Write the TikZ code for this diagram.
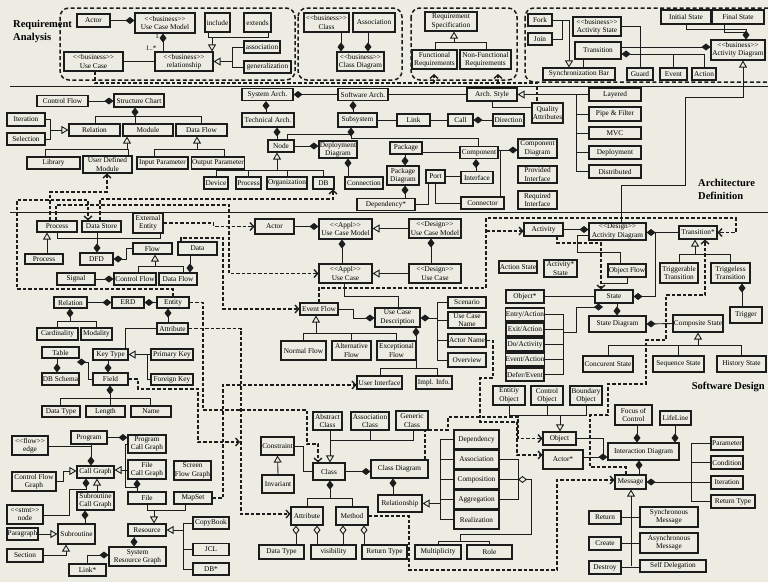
\documentclass[tikz,border=0pt]{standalone}
\usepackage{fontspec}
\setmainfont{Liberation Serif}
\usetikzlibrary{arrows.meta}
\definecolor{paper}{RGB}{236,236,226}
\definecolor{ink}{RGB}{28,28,28}
\newcommand{\stereo}[1]{{<}{<}#1{>}{>}}
\newcommand{\mkbox}[6]{\node[bx, minimum width=#4pt, minimum height=#5pt] (#1) at (#2,#3) {#6};}
\begin{document}
\begin{tikzpicture}[x=1pt, y=-1pt,
  bx/.style={draw=ink, line width=1.1pt, fill=paper, inner sep=0.3pt, align=center, font=\fontsize{7.3}{8.3}\selectfont},
  ln/.style={draw=ink, line width=0.9pt},
  comp/.style={ln, -{Diamond[length=9pt,width=7pt]}},
  agg/.style={ln, -{Diamond[length=9pt,width=7pt,fill=paper]}},
  gen/.style={ln, -{Triangle[length=7pt,width=8pt,fill=paper]}},
  dl/.style={draw=ink, line width=1.4pt, dash pattern=on 3.5pt off 2pt},
  dep/.style={dl, -{Straight Barb[length=3.5pt,width=8pt]}},
  region/.style={draw=ink, line width=1.5pt, dash pattern=on 4pt off 2.5pt, rounded corners=9pt},
  sep/.style={draw=ink, line width=0.9pt},
  ttl/.style={font=\bfseries\fontsize{10.5}{13}\selectfont, align=left, inner sep=0},
  lbl/.style={font=\fontsize{7}{8}\selectfont, inner sep=0}]

\useasboundingbox (0,0) rectangle (768,582);
\fill[paper] (0,0) rectangle (768,582);

% package frames of the requirement layer
\draw[region] (60,8) rectangle (295,80);
\draw[region] (298,8) rectangle (402,80);
\draw[region] (411,8) rectangle (517,80);
\begin{scope}
  \clip (0,0) rectangle (768,582);
  \draw[region] (525,8) rectangle (778,82);
\end{scope}

% layer separators
\draw[sep] (10,86) -- (768,86);
\draw[sep] (10,212) -- (768,212);

% layer titles
\node[ttl, anchor=north west] (tReq) at (13,20) {Requirement\\Analysis};
\node[ttl, anchor=north west] (tArch) at (698,179) {Architecture\\Definition};
\node[ttl, anchor=north east] (tDes) at (765,382) {Software Design};

% ---------- requirement analysis ----------
\mkbox{actor}{93.5}{20.5}{33}{13}{Actor}
\mkbox{bucm}{165}{23}{60}{20}{\stereo{business}\\Use Case Model}
\mkbox{bucase}{93.5}{61.5}{59}{19}{\stereo{business}\\Use Case}
\mkbox{brel}{184}{61.5}{58}{19}{\stereo{business}\\relationship}
\mkbox{include}{217.5}{22.5}{25}{19}{include}
\mkbox{extends}{257.5}{22.5}{27}{19}{extends}
\mkbox{assocA}{262}{47}{36}{12}{association}
\mkbox{gener}{267.5}{67}{47}{12}{generalization}
\mkbox{bclass}{326.5}{22.5}{45}{19}{\stereo{business}\\Class}
\mkbox{bassoc}{374}{22.5}{42}{19}{Association}
\mkbox{bcd}{360.5}{61.5}{47}{19}{\stereo{business}\\Class Diagram}
\mkbox{reqspec}{451}{21.5}{52}{19}{Requirement\\Specification}
\mkbox{funreq}{434.5}{59.5}{45}{19}{Functional\\Requirements}
\mkbox{nfreq}{485.5}{59.5}{51}{19}{Non-Functional\\Requirements}
\mkbox{fork}{540}{20}{24}{12}{Fork}
\mkbox{join}{540}{39}{24}{12}{Join}
\mkbox{syncbar}{579}{74}{72}{12}{Synchronization Bar}
\mkbox{bactst}{597}{26.5}{48}{19}{\stereo{business}\\Activity State}
\mkbox{trans}{598}{50.5}{46}{17}{Transition}
\mkbox{guard}{640}{74}{26}{12}{Guard}
\mkbox{event}{673.5}{74}{27}{12}{Event}
\mkbox{action}{704}{74}{24}{12}{Action}
\mkbox{init}{686}{17}{50}{14}{Initial State}
\mkbox{final}{738}{17}{52}{14}{Final State}
\mkbox{bad}{738}{50}{54}{20}{\stereo{business}\\Activity Diagram}

% ---------- architecture definition ----------
\mkbox{ctrlflow}{62.5}{101}{51}{11}{Control Flow}
\mkbox{stchart}{139}{100.5}{50}{13}{Structure Chart}
\mkbox{iter}{26}{119.5}{38}{13}{Iteration}
\mkbox{sel}{26}{139}{38}{12}{Selection}
\mkbox{relation}{94.5}{130}{51}{12}{Relation}
\mkbox{module}{148}{130}{50}{12}{Module}
\mkbox{dflowA}{201.5}{130}{51}{12}{Data Flow}
\mkbox{library}{53.5}{163}{53}{12}{Library}
\mkbox{udm}{107.5}{164.5}{49}{17}{User Defined\\Module}
\mkbox{inparam}{162.5}{163}{51}{12}{Input Parameter}
\mkbox{outparam}{218}{163}{52}{12}{Output Parameter}
\mkbox{sysarch}{267.5}{94.5}{51}{12}{System Arch.}
\mkbox{swarch}{363}{94.5}{50}{12}{Software Arch.}
\mkbox{techarch}{268}{120}{52}{14}{Technical Arch.}
\mkbox{subsys}{357.5}{120}{39}{14}{Subsystem}
\mkbox{node}{281}{146}{26}{12}{Node}
\mkbox{depdiag}{338}{149.5}{38}{17}{Deployment\\Diagram}
\mkbox{device}{216}{183}{24}{12}{Device}
\mkbox{processA}{248.5}{183}{25}{12}{Process}
\mkbox{org}{287}{183}{40}{12}{Organization}
\mkbox{db}{323.5}{183}{21}{12}{DB}
\mkbox{connection}{364}{183}{38}{12}{Connection}
\mkbox{archstyle}{492}{94.5}{50}{13}{Arch. Style}
\mkbox{quality}{547.5}{113}{31}{20}{Quality\\Attributes}
\mkbox{link}{413.5}{120}{33}{12}{Link}
\mkbox{call}{460.5}{120}{25}{12}{Call}
\mkbox{direction}{508.5}{120}{31}{12}{Direction}
\mkbox{package}{406}{148}{32}{12}{Package}
\mkbox{component}{479}{152.5}{38}{12}{Component}
\mkbox{pkgdiag}{403}{175.5}{32}{19}{Package\\Diagram}
\mkbox{port}{435.5}{176.5}{19}{13}{Port}
\mkbox{interface}{477}{177.5}{32}{12}{Interface}
\mkbox{compdiag}{537.5}{148.5}{39}{19}{Component\\Diagram}
\mkbox{provif}{537.5}{174.5}{39}{17}{Provided\\Interface}
\mkbox{reqif}{537.5}{200}{39}{18}{Required\\Interface}
\mkbox{connector}{482.5}{203}{43}{12}{Connector}
\mkbox{dependency}{386}{204.5}{58}{12}{Dependency*}
\mkbox{layered}{615}{94.5}{52}{13}{Layered}
\mkbox{pipe}{615}{114}{52}{14}{Pipe \& Filter}
\mkbox{mvc}{615}{133}{52}{12}{MVC}
\mkbox{deploy}{615}{152.5}{52}{13}{Deployment}
\mkbox{distrib}{615}{171.5}{52}{13}{Distributed}

% ---------- software design ----------
\mkbox{proc}{57}{226.5}{40}{11}{Process}
\mkbox{dstore}{101.5}{226.5}{39}{11}{Data Store}
\mkbox{extent}{148}{223}{30}{20}{External\\Entity}
\mkbox{proc2}{44}{259}{38}{10}{Process}
\mkbox{dfd}{96.5}{259}{33}{12}{DFD}
\mkbox{flow}{152.5}{248.5}{39}{11}{Flow}
\mkbox{data}{197.5}{248.5}{39}{13}{Data}
\mkbox{signal}{76}{279}{38}{12}{Signal}
\mkbox{cflow}{135}{279}{42}{12}{Control Flow}
\mkbox{dflowB}{178}{279}{38}{12}{Data Flow}
\mkbox{erelation}{70.5}{302.5}{33}{11}{Relation}
\mkbox{erd}{128}{302.5}{32}{11}{ERD}
\mkbox{entity}{173}{302.5}{32}{11}{Entity}
\mkbox{card}{57.5}{334}{41}{12}{Cardinality}
\mkbox{modal}{96.5}{334}{31}{12}{Modality}
\mkbox{eattr}{172.5}{328.5}{31}{11}{Attribute}
\mkbox{keytype}{110.5}{354.5}{35}{11}{Key Type}
\mkbox{pkey}{172}{354.5}{42}{11}{Primary Key}
\mkbox{fkey}{172}{379.5}{42}{11}{Foreign Key}
\mkbox{table}{60.5}{352.5}{37}{11}{Table}
\mkbox{dbschema}{60.5}{379}{37}{12}{DB Schema}
\mkbox{field}{110.5}{379}{35}{12}{Field}
\mkbox{fdtype}{61}{411.5}{38}{11}{Data Type}
\mkbox{length}{105.5}{411.5}{39}{11}{Length}
\mkbox{name}{151}{411.5}{40}{11}{Name}
\mkbox{program}{89}{437.5}{36}{13}{Program}
\mkbox{pcg}{147}{444}{38}{18}{Program\\Call Graph}
\mkbox{edge}{30}{445.5}{36}{19}{\stereo{flow}\\edge}
\mkbox{callgraph}{95.5}{472}{37}{12}{Call Graph}
\mkbox{cfg}{34}{481.5}{44}{19}{Control Flow\\Graph}
\mkbox{fcg}{147}{469.5}{38}{19}{File\\Call Graph}
\mkbox{file}{147}{498}{38}{12}{File}
\mkbox{sfg}{192.5}{470.5}{37}{19}{Screen\\Flow Graph}
\mkbox{mapset}{193}{498}{38}{12}{MapSet}
\mkbox{scg}{95.5}{501}{37}{18}{Subroutine\\Call Graph}
\mkbox{stmt}{25}{514.5}{36}{19}{\stereo{stmt}\\node}
\mkbox{subr}{76.5}{534}{37}{20}{Subroutine}
\mkbox{para}{22.5}{534}{31}{12}{Paragraph}
\mkbox{section}{25}{555.5}{36}{13}{Section}
\mkbox{resource}{147}{530}{38}{12}{Resource}
\mkbox{srg}{137.5}{556.5}{57}{19}{System\\Resource Graph}
\mkbox{linkB}{87.5}{570}{37}{12}{Link*}
\mkbox{copybook}{211}{523}{36}{12}{CopyBook}
\mkbox{jcl}{211}{549.5}{36}{12}{JCL}
\mkbox{dbstar}{211}{569}{36}{12}{DB*}

\mkbox{sactor}{274.5}{226.5}{39}{15}{Actor}
\mkbox{aucm}{345.5}{229}{53}{20}{\stereo{Appl}\\Use Case Model}
\mkbox{auc}{345.5}{273.5}{53}{19}{\stereo{Appl}\\Use Case}
\mkbox{ducm}{435}{228.5}{52}{19}{\stereo{Design}\\Use Case Model}
\mkbox{duc}{435}{273.5}{52}{19}{\stereo{Design}\\Use Case}
\mkbox{evflow}{319}{309}{38}{12}{Event Flow}
\mkbox{ucd}{397.5}{317.5}{45}{19}{Use Case\\Description}
\mkbox{normal}{303.5}{350.5}{45}{19}{Normal Flow}
\mkbox{altflow}{351.5}{350.5}{39}{19}{Alternative\\Flow}
\mkbox{excflow}{396.5}{350.5}{39}{19}{Exceptional\\Flow}
\mkbox{scenario}{467}{302.5}{38}{11}{Scenario}
\mkbox{ucname}{467}{320}{38}{16}{Use Case\\Name}
\mkbox{actname}{467}{340.5}{38}{13}{Actor Name}
\mkbox{overview}{467}{360}{38}{14}{Overview}
\mkbox{ui}{379.5}{382.5}{45}{13}{User Interface}
\mkbox{impl}{434}{382.5}{36}{13}{Impl. Info.}

\mkbox{activity}{543.5}{229.5}{39}{13}{Activity}
\mkbox{dad}{617.5}{231.5}{57}{17}{\stereo{Design}\\Activity Diagram}
\mkbox{transstar}{698}{232.5}{38}{13}{Transition*}
\mkbox{actionstate}{518}{267}{38}{12}{Action State}
\mkbox{actstatestar}{560.5}{268.5}{33}{17}{Activity*\\State}
\mkbox{objflow}{627}{270.5}{38}{13}{Object Flow}
\mkbox{trigable}{679}{273}{38}{20}{Triggerable\\Transition}
\mkbox{trigless}{730.5}{273}{39}{20}{Triggeless\\Transition}
\mkbox{objstar}{525}{296.5}{38}{13}{Object*}
\mkbox{state}{614}{296.5}{38}{13}{State}
\mkbox{trigger}{746}{315}{32}{16}{Trigger}
\mkbox{entry}{525}{314.5}{38}{13}{Entry/Action}
\mkbox{exit}{525}{329.5}{38}{13}{Exit/Action}
\mkbox{doact}{525}{344.5}{38}{13}{Do/Activity}
\mkbox{evact}{525}{359.5}{38}{13}{Event/Action}
\mkbox{defer}{525}{374.5}{38}{13}{Defer/Event}
\mkbox{statediag}{617.5}{324}{57}{16}{State Diagram}
\mkbox{compstate}{698}{323.5}{50}{17}{Composite State}
\mkbox{concur}{608}{364}{50}{16}{Concurent State}
\mkbox{sequence}{678.5}{364}{51}{16}{Sequence State}
\mkbox{history}{741.5}{364}{49}{16}{History State}

\mkbox{eobj}{509}{395.5}{32}{19}{Entitiy\\Object}
\mkbox{cobj}{547}{395.5}{32}{19}{Control\\Object}
\mkbox{bobj}{586}{395.5}{32}{19}{Boundary\\Object}
\mkbox{object}{559.5}{438.5}{33}{13}{Object}
\mkbox{actorstar}{563}{459.5}{40}{19}{Actor*}
\mkbox{foc}{633.5}{415}{37}{20}{Focus of\\Control}
\mkbox{lifeline}{675.5}{418}{31}{14}{LifeLine}
\mkbox{intdiag}{643.5}{451.5}{71}{17}{Interaction Diagram}
\mkbox{message}{630.5}{482}{31}{14}{Message}
\mkbox{param}{727}{443.5}{32}{13}{Parameter}
\mkbox{cond}{727}{462.5}{32}{13}{Condition}
\mkbox{miter}{727}{482.5}{32}{13}{Iteration}
\mkbox{mrettype}{733}{501.5}{44}{13}{Return Type}
\mkbox{ret}{605}{517.5}{32}{13}{Return}
\mkbox{syncmsg}{669}{517}{58}{20}{Synchronous\\Message}
\mkbox{create}{605}{543.5}{32}{13}{Create}
\mkbox{asyncmsg}{669}{543}{58}{20}{Asynchronous\\Message}
\mkbox{destroy}{605}{567.5}{32}{13}{Destroy}
\mkbox{selfdel}{673}{566}{66}{12}{Self Delegation}

\mkbox{absclass}{327.5}{421}{29}{18}{Abstract\\Class}
\mkbox{assocclass}{370}{421}{38}{18}{Association\\Class}
\mkbox{genclass}{412}{420.5}{32}{19}{Generic\\Class}
\mkbox{constraint}{277.5}{446}{33}{18}{Constraint}
\mkbox{invariant}{278}{484}{32}{18}{Invariant}
\mkbox{class}{329}{471.5}{32}{17}{Class}
\mkbox{classdiag}{399.5}{469}{57}{18}{Class Diagram}
\mkbox{cattr}{307}{516}{32}{18}{Attribute}
\mkbox{method}{352}{516}{32}{18}{Method}
\mkbox{cdtype}{281.5}{552}{45}{14}{Data Type}
\mkbox{visib}{333.5}{552}{45}{14}{visibility}
\mkbox{crettype}{384.5}{552}{45}{14}{Return Type}
\mkbox{relship}{400}{503.5}{44}{17}{Relationship}
\mkbox{depend}{476.5}{439.5}{45}{19}{Dependency}
\mkbox{assocB}{476.5}{459.5}{45}{19}{Association}
\mkbox{compos}{476.5}{479.5}{45}{19}{Composition}
\mkbox{aggreg}{476.5}{499.5}{45}{19}{Aggregation}
\mkbox{realiz}{476.5}{519.5}{45}{19}{Realization}
\mkbox{mult}{438}{552}{46}{14}{Multiplicity}
\mkbox{role}{489.5}{552}{45}{14}{Role}

% junction points
\coordinate (incJ) at (212,37);
\coordinate (asJ) at (232,61.5);
\coordinate (rsJ) at (454,43);
\coordinate (fjJ) at (562,20);
\coordinate (frBase) at (434,83);
\coordinate (frTip) at (434,74);
\coordinate (nfBase) at (498,83);
\coordinate (nfTip) at (498,74);
\coordinate (isJ) at (50,130);
\coordinate (lmJ) at (127,150);
\coordinate (ioJ) at (197,150);
\coordinate (ndJ) at (277,171);
\coordinate (ssR) at (351,138);
\coordinate (cpJ) at (500,150);
\coordinate (dfdJ) at (97,238);
\coordinate (flJ) at (155,267);
\coordinate (rcJ) at (70,322);
\coordinate (kJ) at (147,354.5);
\coordinate (tfD) at (77,362);
\coordinate (fdJ) at (110,399);
\coordinate (fieldTip) at (240,442);
\coordinate (evJ) at (486,231);
\coordinate (efJ) at (316,334);
\coordinate (ucdR) at (437,318);
\coordinate (ucdB) at (416,368);
\coordinate (ofJ) at (601,283);
\coordinate (eaJ) at (563,332);
\coordinate (stD) at (603,307);
\coordinate (csJ) at (698,346);
\coordinate (ttJ) at (695,255);
\coordinate (obJ) at (560,415);
\coordinate (idJ) at (603,457);
\coordinate (msJ) at (691,482);
\coordinate (mgJ) at (631,566);
\coordinate (clJ) at (330,440);
\coordinate (caJ) at (330,499);
\coordinate (rsJ2) at (440,503.5);
\coordinate (acJ) at (518,479.5);
\coordinate (mrJ) at (460,541);
\coordinate (frJ) at (154,510);
\coordinate (rcJ2) at (183,530);

% ---------- requirement analysis links ----------
\draw[comp] (actor.east) -- (actor.east -| bucm.west);
\draw[comp] (brel.north -| 163,0) -- (bucm.south -| 163,0);
\node[lbl] (mOne) at (157,36) {1};
\node[lbl] (mMany) at (151,48) {1..*};
\draw[ln] (bucase.east) -- (bucase.east -| brel.west);
\draw[ln] (include.south -| 208,0) -- ++(0,5) -| (extends.south -| 268,0);
\draw[gen] (incJ) -- (brel.north -| incJ);
\draw[ln] (assocA.west) -| (232,67) -- (gener.west);
\draw[gen] (asJ) -- (brel.east);
\draw[comp] (bclass.south -| 341,0) -- (bcd.north -| 341,0);
\draw[comp] (bassoc.south -| 368,0) -- (bcd.north -| 368,0);
\draw[ln] (funreq.north -| 435,0) -- ++(0,-7) -| (nfreq.north -| 486,0);
\draw[gen] (rsJ) -- (reqspec.south -| rsJ);
\draw[ln] (fork.east) -| (562,39) -- (join.east);
\draw[gen] (fjJ) -| (syncbar.north -| 569,0);
\draw[ln] (trans.south -| 583,0) -- (syncbar.north -| 583,0);
\draw[comp] (action.north) |- (trans.east |- 0,54);
\draw[ln] (guard.north) -- (guard.north |- 0,54);
\draw[ln] (event.north) -- (event.north |- 0,54);
\draw[ln] (bactst.east) -| (guard.north);
\draw[comp] (trans.east |- 0,47) -- (bad.west |- 0,47);
\draw[comp] (init.south) |- (746,29) -- (bad.north -| 746,0);
\draw[ln] (final.south -| 724,0) |- (746,32);
\draw[gen] (dad.north -| 621,0) |- (685,185) |- (743,97) -- (bad.south -| 743,0);
\draw[dl] (bucase.south -| 95,0) |- (537,83) -- (quality.north -| 537,0);
\draw[dep] (frBase) -- (frTip);
\draw[dep] (nfBase) -- (nfTip);

% ---------- architecture links ----------
\draw[comp] (ctrlflow.east) -- (ctrlflow.east -| stchart.west);
\draw[comp] (module.north -| 135,0) -- (stchart.south -| 135,0);
\draw[ln] (relation.north -| 95,0) -- ++(0,-7) -| (dflowA.north -| 201,0);
\draw[ln] (iter.east) -| (50,139) -- (sel.east);
\draw[gen] (isJ) -- (relation.west);
\draw[ln] (library.north -| 45,0) -- ++(0,-7) -| (udm.north -| 128,0);
\draw[gen] (lmJ) -- (module.south -| lmJ);
\draw[ln] (inparam.north -| 154,0) -- ++(0,-7) -| (outparam.north -| 224,0);
\draw[gen] (ioJ) -- (dflowA.south -| ioJ);
\draw[comp] (swarch.west) -- (sysarch.east);
\draw[comp] (techarch.north -| 266,0) -- (sysarch.south -| 266,0);
\draw[comp] (subsys.north -| 353,0) -- (swarch.south -| 353,0);
\draw[comp] (node.north -| 277,0) -- (techarch.south -| 277,0);
\draw[comp] (node.east) -- (node.east -| depdiag.west);
\draw[ln] (device.north) -- ++(0,-6) -| (db.north);
\draw[ln] (processA.north) -- ++(0,-6);
\draw[ln] (org.north) -- ++(0,-6);
\draw[gen] (ndJ) -- (node.south -| ndJ);
\draw[comp] (connection.north -| 348,0) -- (depdiag.south -| 348,0);
\draw[comp] (ssR) -- (subsys.south -| ssR);
\draw[ln] (node.north -| 287,0) |- (351,134);
\draw[ln] (ssR) -| (component.north -| 478,0);
\draw[ln] (subsys.east) -- (link.west);
\draw[ln] (link.east) -- (call.west);
\draw[comp] (direction.west) -- (call.east);
\draw[ln] (swarch.east) -- (archstyle.west);
\draw[ln] (archstyle.south) |- (quality.west |- 0,107);
\draw[gen] (layered.west) -- (archstyle.east);
\draw[ln] (layered.west -| 576,0) |- (distrib.west);
\draw[ln] (pipe.west -| 576,0) -- (pipe.west);
\draw[ln] (mvc.west -| 576,0) -- (mvc.west);
\draw[ln] (deploy.west -| 576,0) -- (deploy.west);
\draw[comp] (package.south -| 405,0) -- (pkgdiag.north -| 405,0);
\draw[ln] (package.east |- 0,152) -- (component.west |- 0,152);
\draw[comp] (interface.north -| 476,0) -- (component.south -| 476,0);
\draw[ln] (port.east) -- (port.east -| interface.west);
\draw[comp] (component.east |- 0,150) -- (compdiag.west |- 0,150);
\draw[ln] (cpJ) -- (connector.north -| cpJ);
\draw[comp] (dependency.north -| 405,0) -- (pkgdiag.south -| 405,0);
\draw[ln] (port.south) |- (connector.west);
\draw[ln] (dependency.east) -| (port.south -| 428,0);

% ---------- cross-layer mappings ----------
\draw[dep] (dstore.north -| 100,0) |- (333,199) -- (db.south -| 333,0);
\draw[dep] (proc.north -| 50,0) |- (107,192) -- (udm.south -| 107,0);
\draw[dep] (entity.north) |- (17,289) |- (88,200) -- (dstore.north -| 88,0);
\draw[dep] (proc.north -| 56,0) |- (229,205) |- (auc.west);
\draw[dep] (extent.east) -- ++(50,0) |- (sactor.west);
\draw[dep] (data.north -| 181,0) |- (223,238) |- (evflow.west);
\draw[dep] (field.east) -| (138,389) -| (198,442) -- (fieldTip);
\draw[dep] (entity.east) -| (203,410) -| (307,444) -| (class.north -| 318,0);
\draw[dep] (eattr.east) -| (241,514) -- (cattr.west |- 0,514);
\draw[dep] (mapset.east) -| (223,385) -- (ui.west |- 0,385);
\draw[dep] (actname.east) -| (493,378) -| (480,422) -| (517,455) -- (actorstar.west |- 0,455);
\draw[dep] (classdiag.north -| 425,0) |- (448,430) |- (518,417) |- (object.west);
\draw[dep] (method.east) -| (409,570) -| (557,480) -- (message.west |- 0,480);
\draw[dep] (activity.south -| 557,0) |- (601,243) -- (state.north -| 601,0);
\draw[dep] (evflow.north) |- (486,288) |- (736,218) |- (transstar.east);
\draw[dep] (evJ) -- (activity.west |- evJ);
\draw[dep] (message.north -| 626,0) |- (590,467) |- (608,415) |- (646,384) |- (666,340) |- (705,295) -- (transstar.south -| 705,0);

% ---------- software design links ----------
\draw[comp] (dfdJ) -- (dfd.north -| dfdJ);
\draw[ln] (proc.south) |- (160,238) -- (extent.south -| 160,0);
\draw[ln] (dstore.south -| 97,0) -- (dfdJ);
\draw[gen] (proc2.north -| 47,0) -- (proc.south -| 47,0);
\draw[comp] (flow.west) -| (126,259) -- (dfd.east);
\draw[ln] (cflow.north -| 138,0) -- ++(0,-6) -| (dflowB.north -| 183,0);
\draw[gen] (flJ) -- (flow.south -| flJ);
\draw[comp] (signal.east) -- (cflow.west);
\draw[comp] (data.south -| 190,0) -- (dflowB.north -| 190,0);
\draw[comp] (erelation.east) -- (erd.west);
\draw[comp] (entity.west) -- (erd.east);
\draw[comp] (rcJ) -- (erelation.south -| rcJ);
\draw[ln] (card.north) -- ++(0,-6) -| (modal.north);
\draw[comp] (eattr.north -| 168,0) -- (entity.south -| 168,0);
\draw[ln] (eattr.west) -| (keytype.north -| 125,0);
\draw[ln] (pkey.west) -| (147,379.5) -- (fkey.west);
\draw[gen] (kJ) -- (keytype.east);
\draw[comp] (table.south -| 57,0) -- (dbschema.north -| 57,0);
\draw[comp] (field.west) -| (88,362) -- (tfD);
\draw[comp] (keytype.south -| 108,0) -- (field.north -| 108,0);
\draw[comp] (fdJ) -- (field.south -| fdJ);
\draw[ln] (fdtype.north -| 60,0) -- ++(0,-7) -| (name.north -| 150,0);
\draw[ln] (fdJ) -- (length.north -| fdJ);

\draw[comp] (program.east) -- (program.east -| pcg.west);
\draw[comp] (program.south -| 91,0) -- (callgraph.north -| 91,0);
\draw[ln] (edge.east |- 0,446) -| (program.south -| 91,0);
\draw[gen] (cfg.east) -| (63,471) -- (callgraph.west |- 0,471);
\draw[gen] (fcg.west |- 0,470) -- (callgraph.east |- 0,470);
\draw[ln] (pcg.west) -| (125,487) -| (file.north -| 137,0);
\draw[comp] (file.north -| 137,0) -- (fcg.south -| 137,0);
\draw[ln] (file.south) |- (185,510) -- (mapset.south -| 185,0);
\draw[gen] (frJ) -- (resource.north -| frJ);
\draw[gen] (scg.north -| 97,0) -- (callgraph.south -| 97,0);
\draw[comp] (stmt.east |- 0,515) -| (69,489) -| (callgraph.south -| 86,0);
\draw[comp] (subr.north -| 85,0) -- (scg.south -| 85,0);
\draw[gen] (para.east) -- (subr.west);
\draw[gen] (section.east) -| (subr.south -| 66,0);
\draw[comp] (resource.south -| 134,0) -- (srg.north -| 134,0);
\draw[comp] (linkB.north) |- (srg.west |- 0,555);
\draw[gen] (rcJ2) -- (resource.east);
\draw[ln] (copybook.west) -| (183,569) -- (dbstar.west);
\draw[ln] (jcl.west) -- (jcl.west -| rcJ2);

\draw[comp] (sactor.east) -- (sactor.east -| aucm.west);
\draw[comp] (auc.north -| 342,0) -- (aucm.south -| 342,0);
\draw[gen] (ducm.west) -- (ducm.west -| aucm.east);
\draw[gen] (duc.west) -- (auc.east);
\draw[comp] (duc.north -| 431,0) -- (ducm.south -| 431,0);
\draw[ln] (auc.south -| 344,0) |- (398,296) -- (ucd.north -| 398,0);
\draw[comp] (evflow.east) -| (353,318) -- (ucd.west |- 0,318);
\draw[ln] (normal.north) -- ++(0,-7) -| (excflow.north);
\draw[ln] (altflow.north) -- ++(0,-7);
\draw[gen] (efJ) -- (evflow.south -| efJ);
\draw[comp] (ucdR) -- (ucd.east |- ucdR);
\draw[ln] (scenario.west) -| (437,360) -- (overview.west);
\draw[ln] (ucname.west) -- (ucname.west -| ucdR);
\draw[ln] (actname.west) -- (actname.west -| ucdR);
\draw[comp] (ucdB) -- (ucd.south -| ucdB);
\draw[ln] (ui.north -| 380,0) |- (437,368) -- (impl.north -| 437,0);

\draw[comp] (activity.east) -- (activity.east -| dad.west);
\draw[ln] (dad.west |- 0,235) -| (577,252) -| (objflow.north -| 620,0);
\draw[ln] (objflow.south) |- (ofJ);
\draw[comp] (transstar.west) -- (transstar.west -| dad.east);
\draw[comp] (dad.east -| 655,0) |- (state.east);
\draw[ln] (objstar.east) -- (state.west);
\draw[ln] (entry.east) -| (563,374.5) -- (defer.east);
\draw[ln] (exit.east) -- (exit.east -| eaJ);
\draw[ln] (doact.east) -- (doact.east -| eaJ);
\draw[ln] (evact.east) -- (evact.east -| eaJ);
\draw[comp] (eaJ) -| (576,307) -- (stD);
\draw[comp] (state.south -| 617,0) -- (statediag.north -| 617,0);
\draw[comp] (compstate.west) -- (statediag.east);
\draw[ln] (concur.north) -- ++(0,-10) -| (history.north);
\draw[ln] (sequence.north) -- ++(0,-10);
\draw[gen] (csJ) -- (compstate.south -| csJ);
\draw[ln] (trigable.north) -- ++(0,-8) -| (trigless.north);
\draw[gen] (ttJ) -- (transstar.south -| ttJ);
\draw[comp] (trigger.north -| 742,0) -- (trigless.south -| 742,0);

\draw[ln] (eobj.south) -- ++(0,10) -| (bobj.south);
\draw[ln] (cobj.south) -- ++(0,10);
\draw[gen] (obJ) -- (object.north -| obJ);
\draw[ln] (object.east) -| (idJ);
\draw[comp] (actorstar.east |- idJ) -- (intdiag.west |- idJ);
\draw[comp] (foc.south -| 637,0) -- (intdiag.north -| 637,0);
\draw[comp] (lifeline.south -| 675,0) -- (intdiag.north -| 675,0);
\draw[comp] (message.north -| 639,0) -- (intdiag.south -| 639,0);
\draw[comp] (msJ) -- (message.east);
\draw[ln] (param.west) -| (691,501.5) -- (mrettype.west);
\draw[ln] (cond.west) -- (cond.west -| msJ);
\draw[ln] (miter.west) -- (miter.west -| msJ);
\draw[gen] (mgJ) -- (message.south -| mgJ);
\draw[ln] (ret.east) -- (syncmsg.west |- ret.east);
\draw[ln] (create.east) -- (asyncmsg.west |- create.east);
\draw[ln] (destroy.east) -- (selfdel.west |- destroy.east);

\draw[ln] (absclass.south -| clJ) -- (clJ) -| (genclass.south -| 413,0);
\draw[ln] (assocclass.south) -- (assocclass.south |- clJ);
\draw[gen] (clJ) -- (class.north -| clJ);
\draw[ln] (constraint.east) -| (303,471.5) -- (class.west);
\draw[gen] (invariant.north) -- (constraint.south);
\draw[comp] (class.east) -- (class.east -| classdiag.west);
\draw[comp] (caJ) -- (class.south -| caJ);
\draw[ln] (cattr.north) -- ++(0,-8) -| (method.north);
\draw[agg] (cdtype.north -| 296,0) -- (cattr.south -| 296,0);
\draw[agg] (visib.north -| 317,0) -- (cattr.south -| 317,0);
\draw[agg] (visib.north -| 343,0) -- (method.south -| 343,0);
\draw[agg] (crettype.north -| 364,0) -- (method.south -| 364,0);
\draw[comp] (relship.north -| 393,0) -- (classdiag.south -| 393,0);
\draw[gen] (rsJ2) -- (relship.east);
\draw[ln] (depend.west) -| (440,519.5) -- (realiz.west);
\draw[ln] (assocB.west) -- (assocB.west -| rsJ2);
\draw[ln] (compos.west) -- (compos.west -| rsJ2);
\draw[ln] (aggreg.west) -- (aggreg.west -| rsJ2);
\draw[ln] (assocB.east) -| (518,499.5) -- (aggreg.east);
\draw[ln] (compos.east) -- (acJ);
\draw[agg] (mult.north) |- (mrJ) |- (531,534) |- (acJ);
\draw[ln] (role.north) |- (mrJ);

\end{tikzpicture}
\end{document}
